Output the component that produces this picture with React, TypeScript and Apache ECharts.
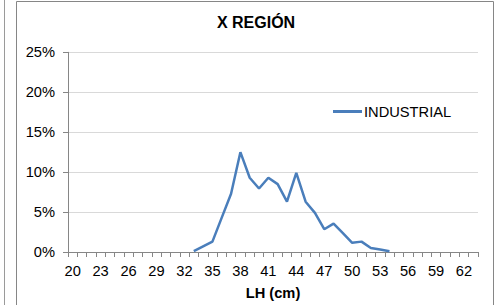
import React, { useEffect, useRef } from "react";
import * as echarts from "echarts";

const categories: string[] = [];
for (let c = 20; c <= 63; c++) categories.push(String(c));

// percentages for LH 20..63 (null = no data)
const industrial: (number | null)[] = [
  null, null, null, null, null, null, null, null, null, null, null, null, null, // 20-32
  0.1, 0.7, 1.3, 4.3, 7.3, 12.5, 9.3, 7.95, 9.3, 8.5, 6.3, 9.9, 6.3, 4.9, 2.85, 3.55, 2.35, 1.15, 1.3, 0.5, 0.3, 0.1, // 33-54
  null, null, null, null, null, null, null, null, null, // 55-63
];

const seriesName = "INDUSTRIAL";
const titleText = "X REGIÓN";
const xAxisName = "LH (cm)";

const FONT = "'Liberation Sans', Arial, sans-serif";

export default function App() {
  const ref = useRef<HTMLDivElement>(null);
  useEffect(() => {
    if (!ref.current) return;
    const chart = echarts.init(ref.current, undefined, { renderer: "svg" });
    chart.setOption({
      animation: false,
      backgroundColor: "#ffffff",
      textStyle: { fontFamily: FONT },
      graphic: [
        { type: "line", shape: { x1: 4.5, y1: 0, x2: 4.5, y2: 305 }, style: { stroke: "#9a9a9a", lineWidth: 1 }, silent: true },
        { type: "rect", shape: { x: 16.5, y: 1.5, width: 477, height: 320 }, style: { stroke: "#868686", fill: "none", lineWidth: 1 }, silent: true },
        {
          type: "text",
          x: 256,
          y: 22,
          style: { text: titleText, font: `bold 16px ${FONT}`, fill: "#000", textAlign: "center", textVerticalAlign: "middle" },
        },
      ],
      legend: {
        left: 333,
        top: 104,
        padding: 0,
        icon: "rect",
        itemWidth: 29,
        itemHeight: 3,
        textStyle: { fontFamily: FONT, fontSize: 14.67, color: "#000", padding: [0, 0, 0, -3] },
        data: [seriesName],
      },
      grid: { left: 68, right: 19, top: 52.3, bottom: 48.3, containLabel: false },
      xAxis: {
        type: "category",
        data: categories,
        boundaryGap: true,
        name: xAxisName,
        nameLocation: "middle",
        nameGap: 33,
        nameTextStyle: { fontFamily: FONT, fontSize: 14.67, fontWeight: "bold", color: "#000" },
        axisLine: { lineStyle: { color: "#868686", width: 1 } },
        axisTick: { show: true, interval: 0, length: 5, lineStyle: { color: "#868686" } },
        axisLabel: { interval: 2, margin: 11, fontFamily: FONT, fontSize: 14.67, color: "#000" },
        splitLine: { show: false },
      },
      yAxis: {
        type: "value",
        min: 0,
        max: 25,
        interval: 5,
        axisLine: { show: true, lineStyle: { color: "#868686", width: 1 } },
        axisTick: { show: true, length: 5, lineStyle: { color: "#868686" } },
        axisLabel: { formatter: "{value}%", margin: 13, fontFamily: FONT, fontSize: 14.67, color: "#000" },
        splitLine: { lineStyle: { color: "#d9d9d9", width: 1 } },
      },
      series: [
        {
          name: seriesName,
          type: "line",
          data: industrial,
          symbol: "none",
          connectNulls: false,
          lineStyle: { color: "#4a7ebb", width: 2.5 },
          itemStyle: { color: "#4a7ebb" },
        },
      ],
    });
    return () => chart.dispose();
  }, []);
  return <div ref={ref} style={{ position: "fixed", left: 0, top: 0, width: 497, height: 305 }} />;
}
